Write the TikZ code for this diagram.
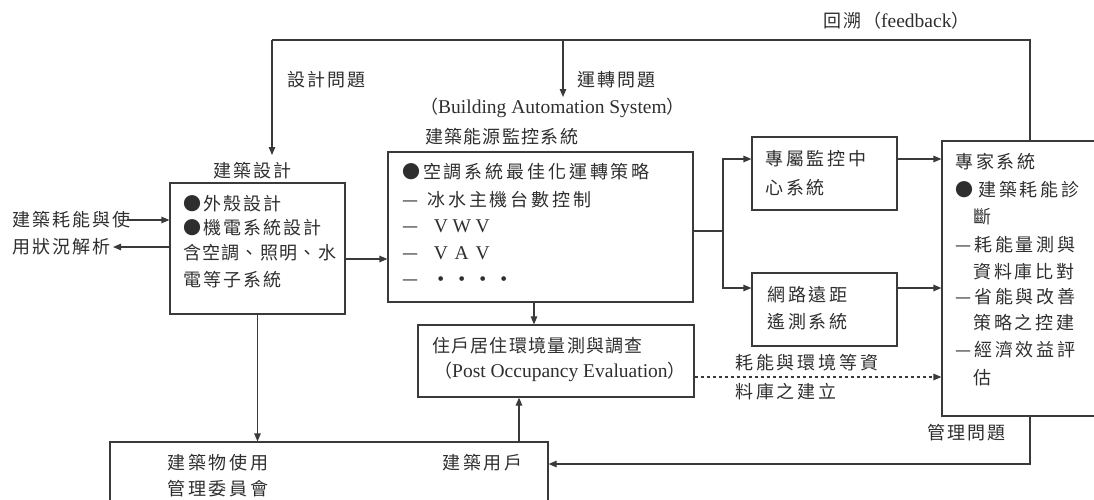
\documentclass[tikz,border=0pt]{standalone}
\usepackage{fontspec}
\setmainfont{Liberation Serif}
\newfontfamily\cjkw[LetterSpace=16]{Noto Sans CJK TC}
\newfontfamily\cjk[LetterSpace=11]{Noto Sans CJK TC}
\newfontfamily\cjkn[LetterSpace=7]{Noto Sans CJK TC}
\usetikzlibrary{arrows.meta}
\definecolor{lncol}{HTML}{3A3A3A}
\definecolor{txcol}{HTML}{2E2E2E}
\newcommand\fwl[1]{\makebox[21pt][c]{#1}}
\newcommand\lat[1]{{\fontsize{19.5}{21}\rmfamily #1}}
\begin{document}
\begin{tikzpicture}[x=1pt,y=-1pt,
  box/.style={draw=lncol, line width=1.2pt, inner sep=0pt},
  lbl/.style={anchor=west, inner sep=0pt, text=txcol, font=\fontsize{18}{21}\cjk},
  lblw/.style={lbl, font=\fontsize{18}{21}\cjkw},
  lbln/.style={lbl, font=\fontsize{18}{21}\cjkn},
  arr/.style={draw=lncol, line width=1.2pt, -{Triangle[length=8pt,width=6.5pt]}},
  wire/.style={draw=lncol, line width=1.2pt}]
\useasboundingbox (0,0) rectangle (1094,499);

% boxes
\node[box, minimum width=175pt, minimum height=131pt] (design) at (257.5,248.5) {};
\node[box, minimum width=305pt, minimum height=150pt] (bas) at (540.5,227) {};
\node[box, minimum width=145pt, minimum height=73pt] (mon) at (824.5,173.5) {};
\node[box, minimum width=145pt, minimum height=73pt] (net) at (824.5,309.5) {};
\node[box, minimum width=276pt, minimum height=72pt] (poe) at (556,361) {};
\node[box, minimum width=170pt, minimum height=275pt] (expert) at (1027,278.5) {};
\node[box, minimum width=438pt, minimum height=80pt] (mgmt) at (329,482) {};

% top labels
\node[lbl] (fb) at (823,21) {回溯（\lat{feedback}）};
\node[lbl] (q1) at (287,80) {設計問題};
\node[lbl] (q2) at (577,80) {運轉問題};
\node[lbl] (basen) at (420,108) {（\lat{Building Automation System}）};
\node[lbln] (basz) at (425,137) {建築能源監控系統};
\node[lbl] (designlbl) at (213,171) {建築設計};

% design box text
\node[lbl] (d1) at (183,204) {●外殼設計};
\node[lbl] (d2) at (183,228) {●機電系統設計};
\node[lbln] (d3) at (183,253) {含空調、照明、水};
\node[lbl] (d4) at (183,280) {電等子系統};

% left
\node[lbl] (left1) at (12,220) {建築耗能與使};
\node[lbl] (left2) at (12,247) {用狀況解析};

% BAS box text
\node[lblw] (b1) at (402,172) {●空調系統最佳化運轉策略};
\node[lblw] (b2) at (402,200) {—\hspace{9pt}冰水主機台數控制};
\node[lblw] (b3) at (402,226) {—\hspace{12pt}\lat{\fwl{V}\fwl{W}\fwl{V}}};
\node[lblw] (b4) at (402,253) {—\hspace{12pt}\lat{\fwl{V}\fwl{A}\fwl{V}}};
\node[lblw] (b5) at (402,281) {—\hspace{12pt}\lat{\fwl{•}\fwl{•}\fwl{•}\fwl{•}}};

% monitor / network
\node[lblw] (m1) at (765,159) {專屬監控中};
\node[lblw] (m2) at (765,188) {心系統};
\node[lblw] (n1) at (767,295) {網路遠距};
\node[lblw] (n2) at (767,322) {遙測系統};

% POE
\node[lbln] (p1) at (432,346) {住戶居住環境量測與調查};
\node[lbl] (p2) at (434,372) {（\lat{Post Occupancy Evaluation}）};

% dotted label
\node[lblw] (dl1) at (735,363) {耗能與環境等資};
\node[lblw] (dl2) at (735,392) {料庫之建立};

% expert
\node[lblw] (e1) at (955,162) {專家系統};
\node[lblw] (e2) at (955,190) {●\hspace{5pt}建築耗能診};
\node[lblw] (e3) at (973,217) {斷};
\node[lblw] (e4) at (955,245) {—耗能量測與};
\node[lblw] (e5) at (973,272) {資料庫比對};
\node[lblw] (e6) at (955,297) {—省能與改善};
\node[lblw] (e7) at (973,323) {策略之控建};
\node[lblw] (e8) at (955,350) {—經濟效益評};
\node[lblw] (e9) at (973,378) {估};
\node[lbl] (mq) at (927,433) {管理問題};

% bottom
\node[lblw] (g1) at (167,463) {建築物使用};
\node[lblw] (g2) at (167,489) {管理委員會};
\node[lblw] (g3) at (442,463) {建築用戶};

% connectors
\coordinate (tl) at (272,40);
\coordinate (tm) at (563,40);
\coordinate (tr) at (1030,40);
\coordinate (dtip) at (272,155);
\coordinate (mtip) at (563,97);
\draw[wire] (expert.north -| tr) -- (tr) -- (tl);
\draw[arr] (tl) -- (dtip);
\draw[arr] (tm) -- (mtip);

\coordinate (lin) at (127,220);
\coordinate (lout) at (113,247);
\draw[arr] (lin) -- (lin -| design.west);
\draw[arr] (lout -| design.west) -- (lout);

\draw[arr] (design.east |- 0,259) -- (bas.west |- 0,259);
\draw[arr] (design.south) -- (design.south |- mgmt.north);
\draw[arr] (bas.south -| 534,0) -- (poe.north -| 534,0);
\draw[arr] (mgmt.north -| 519,0) -- (poe.south -| 519,0);

\coordinate (br) at (723,231);
\draw[wire] (bas.east |- br) -- (br);
\draw[arr] (br) |- (mon.west |- 0,159);
\draw[arr] (br) |- (net.west |- 0,288);
\draw[arr] (mon.east |- 0,159) -- (expert.west |- 0,159);
\draw[arr] (net.east |- 0,288) -- (expert.west |- 0,288);
\draw[arr, dash pattern=on 3pt off 3pt] (poe.east |- 0,377) -- (expert.west |- 0,377);
\draw[arr] (expert.south -| tr) |- (mgmt.east |- 0,464);
\end{tikzpicture}
\end{document}
